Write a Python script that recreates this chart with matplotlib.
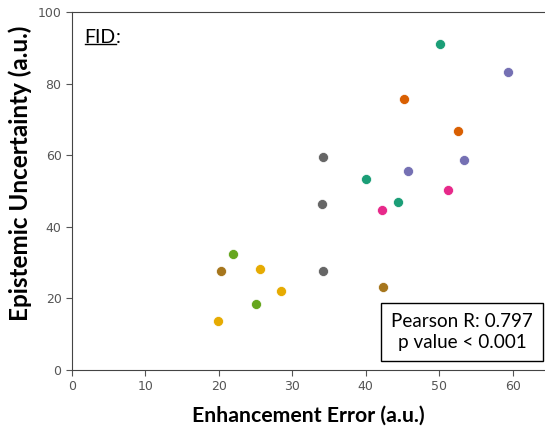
import matplotlib
matplotlib.use("Agg")
import matplotlib.pyplot as plt
from matplotlib.lines import Line2D

# Dark2-style group colours, one list per group of points
teal_x = [50.1, 40.0, 44.4]
teal_y = [91.1, 53.5, 46.9]
orange_x = [45.2, 52.6]
orange_y = [75.6, 66.8]
purple_x = [59.4, 53.4, 45.7]
purple_y = [83.4, 58.6, 55.6]
pink_x = [51.2, 42.2]
pink_y = [50.4, 44.6]
green_x = [21.9, 25.1]
green_y = [32.4, 18.4]
yellow_x = [25.6, 28.4, 19.9]
yellow_y = [28.2, 22.0, 13.6]
brown_x = [20.3, 42.3]
brown_y = [27.6, 23.3]
gray_x = [34.2, 34.0, 34.2]
gray_y = [59.5, 46.5, 27.7]

groups = [
    (teal_x, teal_y, "#1b9e77"),
    (orange_x, orange_y, "#d95f02"),
    (purple_x, purple_y, "#7570b3"),
    (pink_x, pink_y, "#e7298a"),
    (green_x, green_y, "#66a61e"),
    (yellow_x, yellow_y, "#e6ab02"),
    (brown_x, brown_y, "#a6761d"),
    (gray_x, gray_y, "#666666"),
]

xticks = [0, 10, 20, 30, 40, 50, 60]
yticks = [0, 20, 40, 60, 80, 100]

fig = plt.figure(figsize=(5.45, 4.32), dpi=100)
ax = fig.add_axes([0.132, 0.1435, 0.868, 0.8285])

for gx, gy, col in groups:
    ax.scatter(gx, gy, s=52, c=col, edgecolors='white', linewidths=0.5, zorder=3)

ax.set_xlim(0, 64.4)
ax.set_ylim(0, 100)
ax.set_xticks(xticks)
ax.set_yticks(yticks)
ax.tick_params(labelsize=9, colors='#555555', length=4)
for side in ['left', 'bottom', 'top']:
    ax.spines[side].set_color('#444444')
ax.spines['right'].set_visible(False)

ax.set_xlabel('Enhancement Error (a.u.)', family='Lato', fontweight='bold',
              fontsize=15.3, labelpad=9)
ax.set_ylabel('Epistemic Uncertainty (a.u.)', family='Lato', fontweight='bold',
              fontsize=17.5)
ax.yaxis.set_label_coords(-0.085, 0.549)

# "FID:" with the FID part underlined
fid = ax.text(0.027, 0.93, 'FID', transform=ax.transAxes,
              family='Lato', fontsize=14, va='center', ha='left')
fig.canvas.draw()
bb = fid.get_window_extent().transformed(ax.transAxes.inverted())
ax.text(bb.x1, 0.93, ':', transform=ax.transAxes,
        family='Lato', fontsize=14, va='center', ha='left')
ax.add_line(Line2D([bb.x0, bb.x1], [bb.y0 + 0.005, bb.y0 + 0.005],
                   transform=ax.transAxes, color='black', linewidth=1))

ax.text(0.8245, 0.106, 'Pearson R: 0.797\np value < 0.001', transform=ax.transAxes,
        family='Lato', fontsize=13.6, ha='center', va='center', linespacing=1.3,
        bbox=dict(boxstyle='square,pad=0.52', facecolor='white', edgecolor='black', linewidth=1))

fig.savefig('out.png', dpi=100)
